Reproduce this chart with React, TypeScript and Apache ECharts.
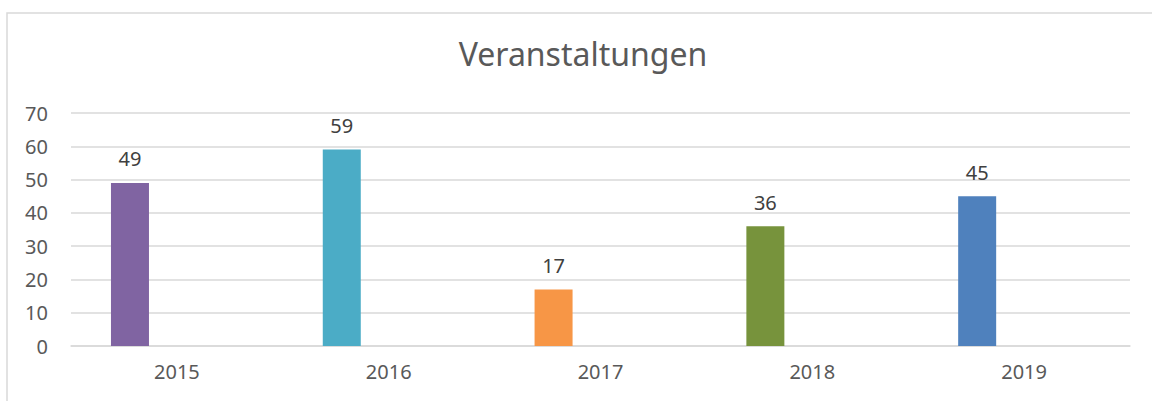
import React, { useEffect, useRef } from "react";
import * as echarts from "echarts";

const categories = ["2015", "2016", "2017", "2018", "2019"];
const values = [49, 59, 17, 36, 45];
const barColors = ["#8064A2", "#4BACC6", "#F79646", "#77933C", "#4F81BD"];
const emptySeries = [null, null, null, null, null];
const yTicks = { min: 0, max: 70, interval: 10 };

export default function App() {
  const ref = useRef<HTMLDivElement>(null);
  useEffect(() => {
    if (!ref.current) return;
    const chart = echarts.init(ref.current, undefined, { renderer: "svg" });
    const font = "'Noto Sans', 'Open Sans', sans-serif";
    chart.setOption({
      animation: false,
      backgroundColor: "#ffffff",
      title: {
        text: "Veranstaltungen",
        left: 578,
        top: 32,
        textAlign: "center",
        textStyle: { fontFamily: font, fontSize: 32, fontWeight: "normal", color: "#595959" },
      },
      graphic: [
        {
          type: "rect",
          shape: { x: 7, y: 13, width: 1160, height: 400 },
          style: { fill: "none", stroke: "#D9D9D9", lineWidth: 1.5 },
          silent: true,
          z: -1,
        },
      ],
      grid: { left: 71, right: 22, top: 113, bottom: 55, containLabel: false },
      xAxis: {
        type: "category",
        data: categories,
        axisLine: { show: true, lineStyle: { color: "#D9D9D9", width: 1.5 } },
        axisTick: { show: false },
        axisLabel: { fontFamily: font, fontSize: 20, color: "#595959", margin: 15 },
      },
      yAxis: {
        type: "value",
        min: yTicks.min,
        max: yTicks.max,
        interval: yTicks.interval,
        axisLine: { show: false },
        axisTick: { show: false },
        splitLine: { lineStyle: { color: "#D9D9D9", width: 1.5 } },
        axisLabel: { fontFamily: font, fontSize: 20, color: "#595959", margin: 23 },
      },
      series: [
        {
          type: "bar",
          barWidth: 38,
          barGap: "147%",
          data: values.map((v, i) => ({ value: v, itemStyle: { color: barColors[i] } })),
          label: {
            show: true,
            position: "top",
            distance: 14,
            fontFamily: font,
            fontSize: 20,
            color: "#404040",
          },
        },
        {
          type: "bar",
          barWidth: 38,
          data: emptySeries,
        },
      ],
    });
    return () => chart.dispose();
  }, []);
  return (
    <div
      ref={ref}
      style={{ position: "absolute", left: 0, top: 0, width: 1152, height: 401 }}
    />
  );
}
